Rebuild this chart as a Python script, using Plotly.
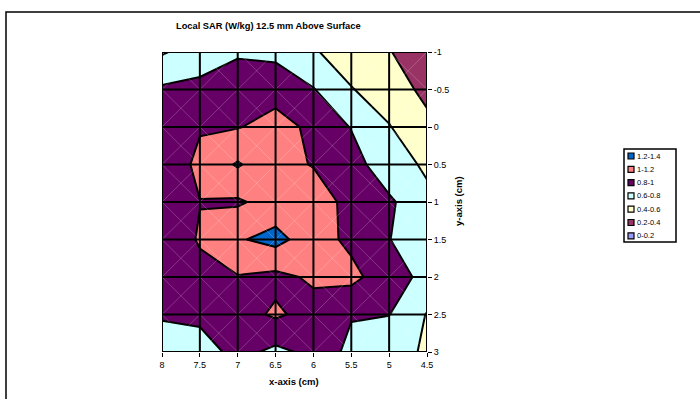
import plotly.graph_objects as go

# Measurement grid (cm)
x_cm = [8, 7.5, 7, 6.5, 6, 5.5, 5, 4.5]
y_cm = [-1, -0.5, 0, 0.5, 1, 1.5, 2, 2.5, 3]
y_tick_text = ["-1", "-0.5", "0", "0.5", "1", "1.5", "2", "2.5", "3"]

# Local SAR (W/kg), one row per y position, columns follow x_cm
sar_wkg = [
    [0.58, 0.70, 0.77, 0.75, 0.62, 0.50, 0.41, 0.28],
    [0.83, 0.85, 0.94, 0.93, 0.81, 0.61, 0.50, 0.35],
    [0.88, 0.98, 0.99, 1.07, 0.96, 0.79, 0.61, 0.45],
    [0.82, 1.06, 1.22, 1.06, 0.99, 0.893, 0.66, 0.58],
    [0.85, 0.995, 0.974, 1.08, 1.10, 0.94, 0.837, 0.63],
    [0.85, 1.02, 1.18, 1.263, 1.09, 0.954, 0.805, 0.68],
    [0.90, 0.937, 0.99, 0.95, 1.03, 1.057, 0.88, 0.75],
    [0.82, 0.85, 0.92, 1.03, 0.93, 0.805, 0.805, 0.59],
    [0.70, 0.70, 0.867, 0.75, 0.85, 0.78, 0.66, 0.58],
]

# Bands from lowest to highest
band_labels = ["0-0.2", "0.2-0.4", "0.4-0.6", "0.6-0.8", "0.8-1", "1-1.2", "1.2-1.4"]
band_colors = ["#9999FF", "#993366", "#FFFFCC", "#CCFFFF", "#660066", "#FF8080", "#0066CC"]

W, H = 700, 399
L, R, T, B = 162, 427, 52, 352  # plot area in pixels


def px(xp):
    return (xp - L) / (R - L)


def py(yp):
    return (B - yp) / (B - T)


FONT = "Liberation Sans, Arial, sans-serif"

fig = go.Figure()

fig.add_trace(go.Contour(
    x=x_cm, y=y_cm, z=sar_wkg,
    autocontour=False,
    contours=dict(start=0.2, end=1.2, size=0.2, coloring="fill"),
    colorscale=[[i / (len(band_colors) - 1), c] for i, c in enumerate(band_colors)],
    line=dict(color="black", width=2, smoothing=0),
    showscale=False,
    hoverinfo="skip",
))

# faint cell diagonals
dx, dy = [], []
for i in range(len(x_cm) - 1):
    for j in range(len(y_cm) - 1):
        dx += [x_cm[i], x_cm[i + 1], None, x_cm[i], x_cm[i + 1], None]
        dy += [y_cm[j], y_cm[j + 1], None, y_cm[j + 1], y_cm[j], None]
fig.add_trace(go.Scatter(x=dx, y=dy, mode="lines",
                         line=dict(color="rgba(255,255,255,0.3)", width=0.7),
                         hoverinfo="skip", showlegend=False))

shapes = []
# grid lines on top of the fill
for xv in x_cm:
    shapes.append(dict(type="line", xref="x", yref="y", x0=xv, x1=xv,
                       y0=y_cm[0], y1=y_cm[-1], line=dict(color="black", width=2), layer="above"))
for yv in y_cm:
    shapes.append(dict(type="line", xref="x", yref="y", x0=x_cm[0], x1=x_cm[-1],
                       y0=yv, y1=yv, line=dict(color="black", width=2), layer="above"))

# outer chart frame
shapes.append(dict(type="rect", xref="paper", yref="paper",
                   x0=px(6), x1=px(704), y0=py(405), y1=py(12),
                   line=dict(color="black", width=1.5), layer="above"))

# legend box
lg_left, lg_right, lg_top, lg_bottom = 624, 676, 149, 242
shapes.append(dict(type="rect", xref="paper", yref="paper",
                   x0=px(lg_left), x1=px(lg_right), y0=py(lg_bottom), y1=py(lg_top),
                   line=dict(color="black", width=1.5), fillcolor="white", layer="above"))

annotations = []
step = 13.3
for k, (lab, col) in enumerate(zip(reversed(band_labels), reversed(band_colors))):
    cy = 156 + k * step
    shapes.append(dict(type="rect", xref="paper", yref="paper",
                       x0=px(628), x1=px(634), y0=py(cy + 3), y1=py(cy - 3),
                       line=dict(color="black", width=1.2), fillcolor=col, layer="above"))
    annotations.append(dict(text=lab, xref="paper", yref="paper", x=px(635), y=py(cy),
                            xanchor="left", yanchor="middle", showarrow=False,
                            font=dict(family=FONT, size=7.5, color="black")))

annotations.append(dict(text="<b>Local SAR (W/kg) 12.5 mm Above Surface</b>",
                        xref="paper", yref="paper", x=px(268), y=py(26),
                        xanchor="center", yanchor="middle", showarrow=False,
                        font=dict(family=FONT, size=9.3, color="black")))
annotations.append(dict(text="<b>x-axis (cm)</b>", xref="paper", yref="paper",
                        x=px(294), y=py(381), xanchor="center", yanchor="middle",
                        showarrow=False, font=dict(family=FONT, size=9.5, color="black")))
annotations.append(dict(text="<b>y-axis (cm)</b>", xref="paper", yref="paper",
                        x=px(458), y=py(201), xanchor="center", yanchor="middle",
                        textangle=-90, showarrow=False,
                        font=dict(family=FONT, size=9.5, color="black")))

fig.update_layout(
    width=W, height=H,
    margin=dict(l=L, r=W - R, t=T, b=H - B, pad=0),
    paper_bgcolor="white", plot_bgcolor="white",
    showlegend=False,
    shapes=shapes,
    annotations=annotations,
    xaxis=dict(range=[x_cm[0], x_cm[-1]], tickvals=x_cm, ticks="outside", ticklen=4,
               tickcolor="black", tickwidth=1, showgrid=False, zeroline=False,
               showline=False, tickfont=dict(family=FONT, size=9, color="black")),
    yaxis=dict(range=[y_cm[-1], y_cm[0]], tickvals=y_cm, ticktext=y_tick_text, side="right",
               ticks="outside", ticklen=4, tickcolor="black", tickwidth=1,
               showgrid=False, zeroline=False, showline=False,
               tickfont=dict(family=FONT, size=9, color="black")),
)

fig.write_html("out.html")
